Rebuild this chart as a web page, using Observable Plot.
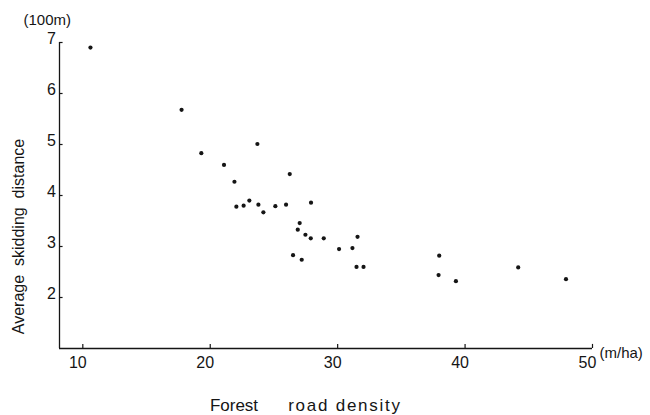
<!DOCTYPE html>
<html>
<head>
<meta charset="utf-8">
<script src="https://cdn.jsdelivr.net/npm/d3@7"></script>
<script src="https://cdn.jsdelivr.net/npm/@observablehq/plot@0.6"></script>
<style>
  html, body { margin: 0; padding: 0; background: #fff; }
  #chart svg { display: block; }
</style>
</head>
<body>
<div id="chart"></div>
<script>
// Forest road density (m/ha)
const density = [10.6, 17.75, 19.3, 23.7, 21.08, 21.9, 26.24, 22.05, 22.62, 23.07, 23.78, 24.17,
  25.11, 25.95, 27.91, 27.02, 26.87, 27.47, 27.89, 28.91, 30.11, 31.16, 31.56, 26.5,
  27.18, 31.48, 32.03, 37.97, 37.92, 39.28, 44.17, 47.92];
// Average skidding distance (100 m)
const distance = [6.90, 5.68, 4.83, 5.01, 4.60, 4.27, 4.42, 3.78, 3.80, 3.90, 3.82, 3.67,
  3.79, 3.82, 3.86, 3.46, 3.33, 3.23, 3.16, 3.16, 2.95, 2.97, 3.19, 2.83,
  2.74, 2.60, 2.60, 2.82, 2.44, 2.32, 2.59, 2.36];
const xTicks = [10, 20, 30, 40, 50];
const yTicks = [2, 3, 4, 5, 6, 7];
const xDomain = [8.17, 50];
const yDomain = [1, 7];
const xTitle = ["Forest", "road density"];

const points = density.map((d, i) => ({x: d, y: distance[i]}));
const ink = "#151515";
const font = "'Liberation Sans', Arial, Helvetica, sans-serif";

const chart = Plot.plot({
  width: 650,
  height: 415,
  marginLeft: 59,
  marginRight: 58,
  marginTop: 42,
  marginBottom: 67,
  style: {fontFamily: font, background: "#fff", color: ink},
  x: {domain: xDomain, axis: null},
  y: {domain: yDomain, axis: null},
  marks: [
    // axis lines
    Plot.ruleY([yDomain[0]], {x1: xDomain[0], x2: xDomain[1], stroke: ink, strokeWidth: 1.3}),
    Plot.ruleX([xDomain[0]], {y1: yDomain[0], y2: yDomain[1], stroke: ink, strokeWidth: 1.3}),
    // ticks
    Plot.ruleX(xTicks, {x: d => d, y1: yDomain[0], y2: yDomain[0] + 0.08, stroke: ink, strokeWidth: 1.2}),
    Plot.ruleY(yTicks, {y: d => d, x1: xDomain[0], x2: xDomain[0] + 0.28, stroke: ink, strokeWidth: 1.2}),
    // tick labels
    Plot.text(xTicks, {x: d => d, y: yDomain[0], text: d => String(d), dy: 14, dx: -5,
      fontSize: 16, fill: ink}),
    Plot.text(yTicks, {x: xDomain[0], y: d => d, text: d => String(d), dx: -3.5, dy: -4,
      textAnchor: "end", fontSize: 16, fill: ink}),
    // data
    Plot.dot(points, {x: "x", y: "y", r: 2.1, fill: ink, stroke: "none"}),
    // unit labels
    Plot.text(["(100m)"], {frameAnchor: "top-left", textAnchor: "start", lineAnchor: "middle",
      dx: -36, dy: -22, fontSize: 15, fill: ink}),
    Plot.text(["(m/ha)"], {frameAnchor: "bottom-right", textAnchor: "start", lineAnchor: "middle",
      dx: 7, dy: 5, fontSize: 15, fill: ink}),
    // axis titles
    Plot.text([xTitle[0]], {frameAnchor: "bottom", textAnchor: "middle", lineAnchor: "middle",
      dx: -92, dy: 57, fontSize: 17, fill: ink}),
    Plot.text([xTitle[1]], {frameAnchor: "bottom", textAnchor: "middle", lineAnchor: "middle",
      dx: 19, dy: 57, fontSize: 17, fill: ink}),
    Plot.text(["Average  skidding  distance"], {frameAnchor: "left", textAnchor: "middle", lineAnchor: "middle",
      dx: -41, dy: 41, rotate: -90, fontSize: 16, fill: ink})
  ]
});
d3.select(chart).selectAll("text")
  .filter(function() { return this.textContent === xTitle[1]; })
  .style("letter-spacing", "1.75px");
document.getElementById("chart").appendChild(chart);
</script>
</body>
</html>
